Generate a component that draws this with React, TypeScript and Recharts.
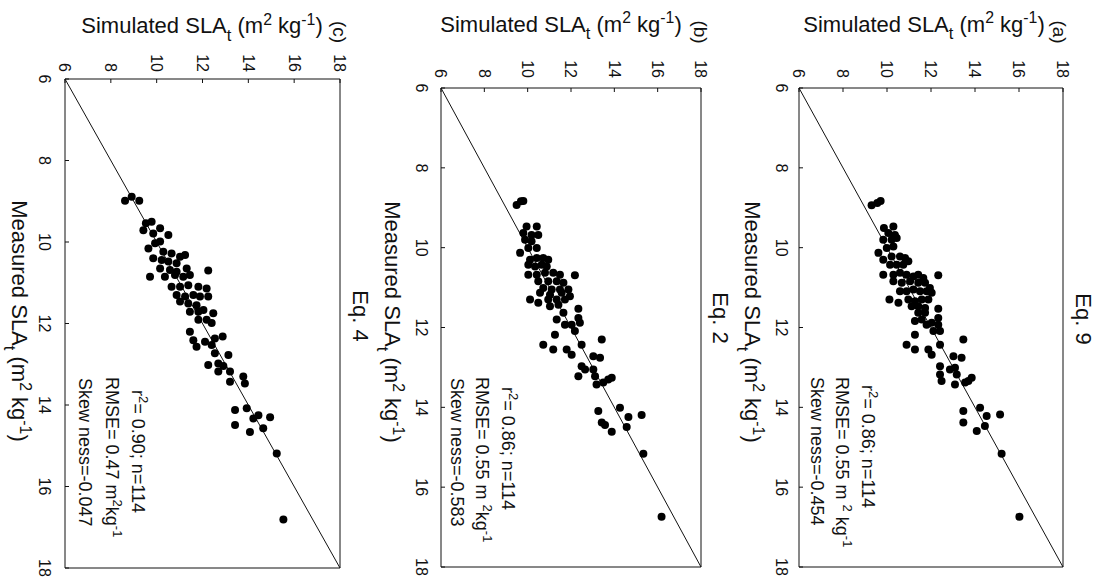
import React from 'react';
import { ScatterChart, Scatter, XAxis, YAxis, ReferenceLine } from 'recharts';

const FONT = '"Liberation Sans", Arial, Helvetica, sans-serif';
const INK = '#111';

const axisTicks = [6, 8, 10, 12, 14, 16, 18];

// [measured, simulated] SLA_t pairs, m2 kg-1
const eq9Points: [number, number][] = [
  [8.94, 9.3], [8.88, 9.56], [8.83, 9.71], [9.51, 9.86], [9.47, 10.29], [9.63, 10.06], [9.68, 10.36],
  [9.8, 9.83], [9.8, 10.21], [9.76, 10.44], [10.13, 9.61], [10.01, 9.99], [9.97, 10.29], [10.3, 9.83],
  [10.22, 10.21], [10.22, 10.59], [10.26, 10.82], [10.43, 10.14], [10.43, 10.44], [10.43, 10.74],
  [10.34, 10.97], [10.68, 9.83], [10.68, 10.29], [10.63, 10.59], [10.68, 10.89], [10.72, 11.2],
  [10.68, 11.42], [10.76, 11.65], [10.69, 12.33], [10.84, 10.29], [10.88, 10.67], [10.84, 11.05],
  [10.88, 11.42], [10.88, 11.73], [11.01, 11.95], [11.09, 10.59], [11.09, 10.89], [11.05, 11.2],
  [11.09, 11.5], [11.09, 11.8], [11.13, 12.03], [11.3, 10.11], [11.38, 10.52], [11.3, 10.97],
  [11.34, 11.27], [11.3, 11.58], [11.3, 11.88], [11.47, 11.12], [11.47, 11.42], [11.51, 11.73],
  [11.53, 12.33], [11.63, 11.42], [11.63, 11.73], [11.84, 11.27], [11.8, 11.58], [11.93, 11.8],
  [11.88, 12.03], [11.76, 12.33], [11.93, 12.33], [12.09, 12.11], [12.09, 12.41], [12.18, 11.27],
  [12.43, 10.89], [12.55, 11.27], [12.55, 11.88], [12.68, 12.03], [12.43, 12.41], [12.3, 13.47],
  [12.72, 13.02], [12.76, 13.39], [12.97, 12.41], [13.05, 12.86], [13.01, 13.09], [13.18, 12.41],
  [13.34, 12.48], [13.18, 13.17], [13.43, 13.09], [13.38, 13.55], [13.34, 13.7], [13.26, 13.85],
  [14.09, 13.47], [14.01, 14.23], [14.22, 14.53], [14.18, 15.14], [14.38, 13.47], [14.59, 14.08],
  [14.47, 14.45], [15.16, 15.21], [16.74, 16.02],
];

const eq2Points: [number, number][] = [
  [8.93, 9.49], [8.84, 9.69], [8.83, 9.8], [9.47, 9.95], [9.47, 10.42], [9.63, 9.8], [9.68, 10.18],
  [9.68, 10.49], [9.8, 9.88], [9.84, 10.18], [10.13, 9.65], [10.01, 10.03], [10.01, 10.42],
  [10.3, 10.11], [10.26, 10.42], [10.26, 10.72], [10.3, 10.95], [10.43, 10.03], [10.47, 10.34],
  [10.43, 10.65], [10.47, 10.88], [10.68, 10.03], [10.68, 10.42], [10.63, 10.8], [10.63, 11.18],
  [10.68, 11.49], [10.69, 12.18], [10.84, 10.49], [10.84, 10.95], [10.84, 11.34], [10.88, 11.65],
  [11.01, 10.72], [11.05, 11.11], [11.05, 11.49], [11.05, 11.88], [11.13, 10.57], [11.18, 11.03],
  [11.13, 11.57], [11.22, 11.95], [11.3, 10.11], [11.38, 10.49], [11.3, 10.95], [11.3, 11.34],
  [11.3, 11.72], [11.47, 11.03], [11.43, 11.42], [11.53, 12.34], [11.63, 11.65], [11.8, 11.34],
  [11.93, 11.72], [11.93, 12.03], [11.76, 12.34], [11.88, 12.41], [12.09, 12.18], [12.18, 11.26],
  [12.43, 10.72], [12.55, 11.18], [12.55, 11.8], [12.68, 12.03], [12.43, 12.49], [12.3, 13.42],
  [12.72, 13.03], [12.76, 13.34], [12.97, 12.49], [13.05, 12.65], [13.05, 13.03], [13.22, 12.34],
  [13.22, 13.11], [13.43, 13.18], [13.38, 13.49], [13.3, 13.72], [13.26, 13.88], [14.09, 13.26],
  [14.01, 14.26], [14.24, 14.65], [14.19, 15.26], [14.38, 13.42], [14.44, 13.57], [14.61, 13.88],
  [14.49, 14.57], [15.16, 15.34], [16.74, 16.18],
];

const eq4Points: [number, number][] = [
  [8.99, 8.62], [8.89, 8.91], [8.99, 9.24], [9.54, 9.53], [9.5, 9.78], [9.66, 10.15], [9.71, 9.42],
  [9.79, 9.85], [9.83, 10.51], [10.16, 9.64], [10.03, 9.93], [9.99, 10.15], [10.24, 10.29],
  [10.28, 10.65], [10.36, 11.02], [10.32, 11.24], [10.4, 9.85], [10.44, 10.22], [10.48, 10.51],
  [10.52, 10.87], [10.65, 10.15], [10.69, 10.58], [10.73, 10.87], [10.65, 11.31], [10.7, 12.25],
  [10.85, 9.71], [10.85, 10.36], [10.81, 10.8], [10.85, 11.16], [10.81, 11.45], [11.1, 10.65],
  [11.1, 11.02], [11.06, 11.38], [11.1, 11.82], [11.14, 12.18], [11.3, 10.87], [11.34, 11.24],
  [11.3, 11.6], [11.34, 11.89], [11.34, 12.25], [11.46, 11.02], [11.51, 11.38], [11.55, 11.74],
  [11.71, 11.45], [11.71, 11.82], [11.67, 12.04], [11.75, 12.47], [11.91, 11.82], [11.91, 12.18],
  [11.99, 12.4], [12.2, 11.45], [12.41, 11.6], [12.45, 12.11], [12.37, 12.54], [12.32, 12.88],
  [12.57, 11.74], [12.53, 12.4], [12.73, 12.54], [12.77, 13.13], [13.02, 12.25], [12.98, 12.69],
  [13.04, 12.91], [13.18, 12.69], [13.18, 13.2], [13.43, 13.2], [13.3, 13.78], [13.47, 13.85],
  [14.12, 13.42], [14.08, 13.93], [14.25, 14.44], [14.3, 14.95], [14.49, 13.42], [14.33, 14.22],
  [14.66, 14.07], [14.57, 14.65], [15.19, 15.24], [16.81, 15.53],
];

const equations = ['Eq. 9', 'Eq. 2', 'Eq. 4'];
const panelTags = ['(a)', '(b)', '(c)'];
const r2Values = ['0.86', '0.86', '0.90'];
const nValues = [114, 114, 114];
const rmseValues = ['0.55', '0.55', '0.47'];
const skewValues = ['-0.454', '-0.583', '-0.047'];

const panelPoints = [eq9Points, eq2Points, eq4Points];

// plot boxes in the unrotated 579 x 1102 figure
const boxes = [
  { top: 0, height: 360, plotTop: 39, plotBottom: 303, plotLeft: 88, plotRight: 567, xTickMargin: 16, yTickMargin: 14 },
  { top: 360, height: 360, plotTop: 41, plotBottom: 301, plotLeft: 88, plotRight: 567, xTickMargin: 18, yTickMargin: 14 },
  { top: 720, height: 382, plotTop: 42, plotBottom: 317, plotLeft: 79, plotRight: 568, xTickMargin: 19, yTickMargin: 11 },
];

const notes = [
  { title: [319, 19], tag: [32, 42], xLabel: [322, 350], stats: [[385, 234], [377, 260], [377, 285]], yLabel: [924, 24.5], gaps: [' ', ' '] },
  { title: [318, 382], tag: [32, 401], xLabel: [322, 710], stats: [[387, 594], [377, 620], [378, 645]], yLabel: [561, 24.5], gaps: [' ', ''] },
  { title: [316, 742], tag: [32, 762], xLabel: [321, 1083], stats: [[390, 964], [377, 990], [378, 1017]], yLabel: [202, 26], gaps: ['', ''] },
];

const Sup = ({ children }: { children: React.ReactNode }) => (
  <span style={{ fontSize: '0.72em', position: 'relative', top: '-0.55em' }}>{children}</span>
);
const Sub = ({ children }: { children: React.ReactNode }) => (
  <span style={{ fontSize: '0.75em', position: 'relative', top: '0.45em' }}>{children}</span>
);

// y is the centre of the capital letters
function Txt({ x, y, size, center, children }: { x: number; y: number; size: number; center?: boolean; children: React.ReactNode }) {
  return (
    <div
      style={{
        position: 'absolute',
        left: x,
        top: y - size * 0.49,
        fontSize: size,
        lineHeight: 1,
        whiteSpace: 'pre',
        transform: center ? 'translateX(-50%)' : undefined,
      }}
    >
      {children}
    </div>
  );
}

const Dot = (props: any) => <circle cx={props.cx} cy={props.cy} r={4} fill="#000" />;

function Panel({ points, box }: { points: [number, number][]; box: (typeof boxes)[number] }) {
  const data = points.map(([m, s]) => ({ m, s }));
  const lineStyle = { stroke: INK, strokeWidth: 1 };
  const tickStyle = { fill: INK, fontSize: 16, fontFamily: FONT };
  return (
    <div style={{ position: 'absolute', left: 0, top: box.top }}>
      <ScatterChart
        width={579}
        height={box.height}
        margin={{ top: box.plotTop - 1, right: 579 - box.plotRight - 1, bottom: 0, left: 0 }}
      >
        <XAxis
          xAxisId="m"
          dataKey="m"
          type="number"
          domain={[6, 18]}
          ticks={axisTicks}
          interval={0}
          height={box.height - box.plotBottom}
          tickSize={-4}
          tickMargin={box.xTickMargin}
          axisLine={lineStyle}
          tickLine={lineStyle}
          tick={tickStyle}
        />
        <XAxis
          xAxisId="top"
          orientation="top"
          type="number"
          domain={[6, 18]}
          ticks={axisTicks}
          interval={0}
          height={1}
          tickSize={-4}
          tick={false}
          axisLine={lineStyle}
          tickLine={lineStyle}
        />
        <YAxis
          yAxisId="s"
          dataKey="s"
          type="number"
          domain={[6, 18]}
          ticks={axisTicks}
          interval={0}
          width={box.plotLeft}
          tickSize={-4}
          tickMargin={box.yTickMargin}
          axisLine={lineStyle}
          tickLine={lineStyle}
          tick={tickStyle}
        />
        <YAxis
          yAxisId="right"
          orientation="right"
          type="number"
          domain={[6, 18]}
          ticks={axisTicks}
          interval={0}
          width={1}
          tickSize={-4}
          tick={false}
          axisLine={lineStyle}
          tickLine={lineStyle}
        />
        <ReferenceLine
          xAxisId="m"
          yAxisId="s"
          segment={[{ x: 6, y: 6 }, { x: 18, y: 18 }]}
          stroke={INK}
          strokeWidth={1}
        />
        <Scatter xAxisId="m" yAxisId="s" data={data} isAnimationActive={false} shape={Dot} />
      </ScatterChart>
    </div>
  );
}

export default function App() {
  return (
    <div
      style={{
        position: 'absolute',
        left: 0,
        top: 0,
        width: 1102,
        height: 579,
        overflow: 'hidden',
        background: '#fff',
        fontFamily: FONT,
        color: INK,
      }}
    >
      {/* the figure is laid out upright and turned a quarter clockwise */}
      <div
        style={{
          position: 'absolute',
          left: 0,
          top: 0,
          width: 579,
          height: 1102,
          transformOrigin: '0 0',
          transform: 'translate(1102px, 0) rotate(90deg)',
        }}
      >
        {boxes.map((box, i) => (
          <Panel key={i} points={panelPoints[i]} box={box} />
        ))}
        {notes.map((n, i) => (
          <React.Fragment key={i}>
            <Txt x={n.title[0]} y={n.title[1]} size={22} center>
              {equations[i]}
            </Txt>
            <Txt x={n.tag[0]} y={n.tag[1]} size={19} center>
              {panelTags[i]}
            </Txt>
            <Txt x={n.xLabel[0]} y={n.xLabel[1]} size={22} center>
              Measured SLA<Sub>t</Sub> (m<Sup>2</Sup> kg<Sup>-1</Sup>)
            </Txt>
            <Txt x={n.stats[0][0]} y={n.stats[0][1]} size={18}>
              r<Sup>2</Sup>= {r2Values[i]}; n={nValues[i]}
            </Txt>
            <Txt x={n.stats[1][0]} y={n.stats[1][1]} size={18}>
              RMSE= {rmseValues[i]} m{n.gaps[0]}<Sup>2</Sup>{n.gaps[1]}kg<Sup>-1</Sup>
            </Txt>
            <Txt x={n.stats[2][0]} y={n.stats[2][1]} size={18}>
              Skew ness={skewValues[i]}
            </Txt>
          </React.Fragment>
        ))}
      </div>
      {notes.map((n, i) => (
        <Txt key={i} x={n.yLabel[0]} y={n.yLabel[1]} size={22} center>
          Simulated SLA<Sub>t</Sub> (m<Sup>2</Sup> kg<Sup>-1</Sup>)
        </Txt>
      ))}
    </div>
  );
}
